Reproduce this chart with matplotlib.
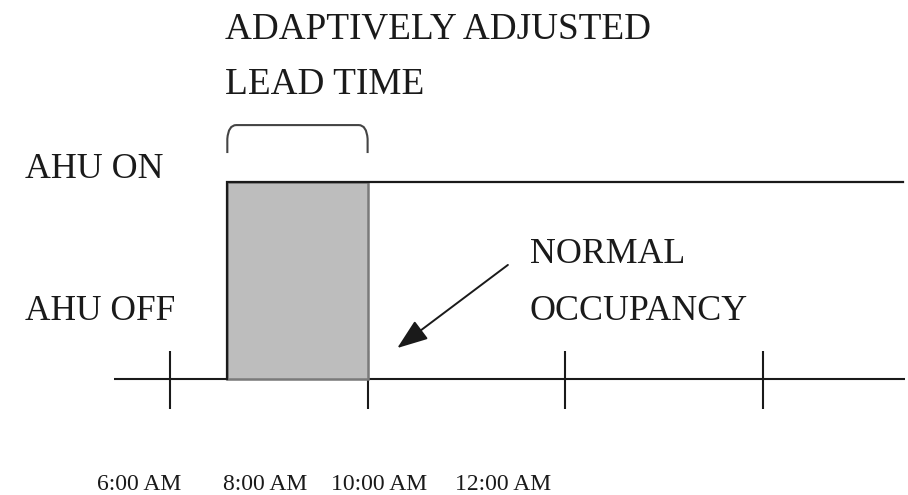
import matplotlib
matplotlib.use("Agg")
import matplotlib.pyplot as plt
from matplotlib.path import Path
from matplotlib.patches import PathPatch

# ---- data ----
tick_hours = [6, 8, 10, 12]
tick_labels = ["6:00 AM", "8:00 AM", "10:00 AM", "12:00 AM"]
label_left_hours = [5.26, 6.54, 7.63, 8.88]   # where the original printed the labels
state_values = [0, 1]
state_labels = ["AHU OFF", "AHU ON"]
ahu_start = 6.58      # adaptively adjusted start
occupancy_start = 8.0 # normal occupancy
day_end = 13.42
axis_start = 5.43

plt.rcParams['font.family'] = ['Liberation Serif', 'DejaVu Serif']

fig = plt.figure(figsize=(9.08, 4.95), dpi=100)
ax = fig.add_axes([0, 0, 1, 1])
ax.set_xlim(4.279, 13.47)
ax.set_ylim(-0.589, 1.924)
ax.axis('off')

ink = '#1a1a1a'

# baseline (time axis)
ax.plot([axis_start, day_end + 0.02], [0, 0], color=ink, lw=1.5, solid_capstyle='butt', zorder=3)
for h in tick_hours:
    ax.plot([h, h], [-0.152, 0.142], color=ink, lw=1.5, solid_capstyle='butt', zorder=2)

# shaded lead time
ax.bar(ahu_start, state_values[1], width=occupancy_start - ahu_start, align='edge',
       color='#bdbdbd', edgecolor='#7a7a7a', lw=1.8, zorder=4)

# AHU state step line
ax.plot([ahu_start, ahu_start, day_end], [state_values[0], state_values[1], state_values[1]],
        color=ink, lw=1.6, solid_joinstyle='miter', zorder=5)

# bracket over lead time
yb0, yb1 = 1.147, 1.289
dx = 0.09
verts = [(ahu_start, yb0), (ahu_start, yb1 - 0.07),
         (ahu_start + 0.01, yb1), (ahu_start + dx, yb1),
         (occupancy_start - dx, yb1),
         (occupancy_start - 0.01, yb1), (occupancy_start, yb1 - 0.07),
         (occupancy_start, yb0)]
codes = [Path.MOVETO, Path.LINETO, Path.CURVE3, Path.CURVE3, Path.LINETO,
         Path.CURVE3, Path.CURVE3, Path.LINETO]
ax.add_patch(PathPatch(Path(verts, codes), fill=False, edgecolor='#444444', lw=1.5))

# text
ax.text(6.556, 1.731, "ADAPTIVELY ADJUSTED", fontsize=26.8, ha='left', va='baseline', color=ink)
ax.text(6.556, 1.447, "LEAD TIME", fontsize=26.8, ha='left', va='baseline', color=ink)
ax.text(4.532, 1.020, state_labels[1], fontsize=25.8, ha='left', va='baseline', color=ink)
ax.text(4.532, 0.2995, state_labels[0], fontsize=25.5, ha='left', va='baseline', color=ink)
ax.text(9.643, 0.589, "NORMAL", fontsize=25.8, ha='left', va='baseline', color=ink)
ax.text(9.643, 0.2995, "OCCUPANCY", fontsize=25.8, ha='left', va='baseline', color=ink)
for xh, lab in zip(label_left_hours, tick_labels):
    ax.text(xh, -0.563, lab, fontsize=17, ha='left', va='baseline', color=ink)

# arrow
ax.annotate("", xy=(8.30, 0.157), xytext=(9.42, 0.579),
            arrowprops=dict(arrowstyle='-|>,head_length=1.9,head_width=0.7',
                            color=ink, lw=1.4, shrinkA=0, shrinkB=0))

fig.savefig("out.png", dpi=100, facecolor='white')
